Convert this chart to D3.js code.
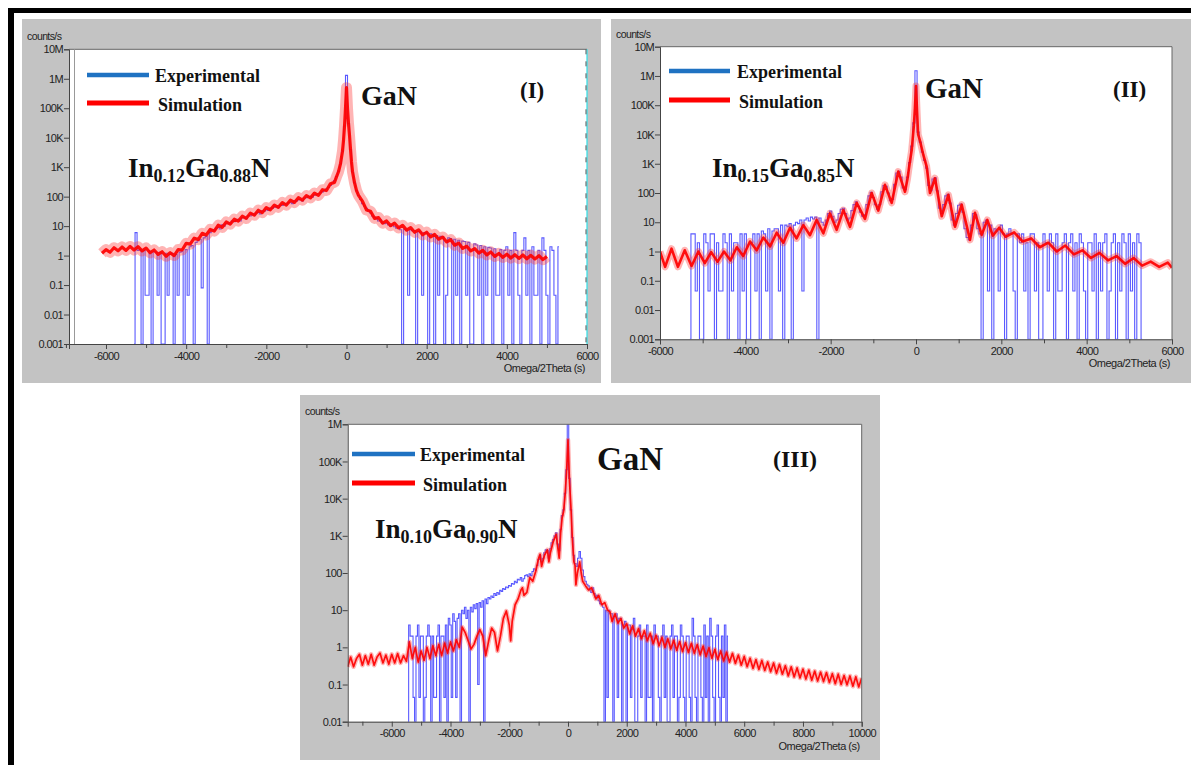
<!DOCTYPE html>
<html><head><meta charset="utf-8">
<script src="https://cdn.jsdelivr.net/npm/d3@7"></script>
<style>body{margin:0;background:#fff}svg{display:block}</style>
</head><body><svg id="c" width="1191" height="765"></svg>
<script>
// ---------------- DATA ----------------
const yLabelsI = ["0.001","0.01","0.1","1","10","100","1K","10K","100K","1M","10M"];
const yLabelsIII = ["0.01","0.1","1","10","100","1K","10K","100K","1M"];
const xTicksI = [-6000,-4000,-2000,0,2000,4000,6000];
const xTicksIII = [-6000,-4000,-2000,0,2000,4000,6000,8000,10000];

// Panel I simulation (red)
const simI_x = [-6100,-6000,-5900,-5800,-5700,-5600,-5500,-5400,-5300,-5200,-5100,-5000,-4900,-4800,-4700,-4600,-4500,-4400,-4300,-4200,-4100,-4000,-3900,-3800,-3700,-3600,-3500,-3400,-3300,-3200,-3100,-3000,-2900,-2800,-2700,-2600,-2500,-2400,-2300,-2200,-2100,-2000,-1900,-1800,-1700,-1600,-1500,-1400,-1300,-1200,-1100,-1000,-900,-800,-700,-600,-500,-400,-300,-250,-200,-150,-100,-75,-50,-25,0,25,50,75,100,125,150,200,250,300,400,500,600,700,800,900,1000,1100,1200,1300,1400,1500,1600,1700,1800,1900,2000,2100,2200,2300,2400,2500,2600,2700,2800,2900,3000,3100,3200,3300,3400,3500,3600,3700,3800,3900,4000,4100,4200,4300,4400,4500,4600,4700,4800,4900,5000];
const simI_y = [1.2,1.6,1.3,1.85,1.45,1.95,1.5,2.05,1.55,2.0,1.45,1.8,1.25,1.55,1.1,1.35,0.95,1.25,1.0,1.6,1.55,2.6,2.45,3.9,3.5,5.7,5.0,7.7,6.8,10.7,9.1,13.8,11.7,17.2,14.8,21.8,18.3,27.6,23.5,34.5,28.7,42.5,35.7,51.7,43.5,63,52,76,63.5,92,76.5,109,91,132,111,172,161,276,305,470,700,1300,3500,8000,24000,100000,500000,100000,30000,12000,4000,1500,700,300,160,110,69,35,32,18.3,19.5,12.6,15,10.4,12.6,8.7,10.6,7.3,8.9,6.2,7.5,5.1,6.2,4.3,5.2,3.6,4.25,2.9,3.45,2.25,2.65,1.75,2.07,1.44,1.72,1.22,1.5,1.06,1.32,0.94,1.18,0.87,1.12,0.83,1.07,0.8,1.05,0.78,1.02,0.77,0.99,0.73,0.94];

// Panel I experimental (blue), step 50
const expI_leftStart = -5300;
const expI_left = [0.001,6,1.5,1.6,0.001,1.5,0.045,0.045,1.4,0.001,1.4,1.3,0.045,1.3,0.001,0.001,1.2,0.045,1.1,1.2,0.001,1.1,0.045,1.3,1.4,0.001,1.6,0.045,2.0,2.2,0.001,2.8,3.2,3.6,0.08,4.0,4.5,0.001];
const expI_midStart = -3400;
const expI_mid = [6.0,7.5,7.0,8.5,9.0,8.0,11,10,12,13,12,15,14,16,17,15,19,20,18,23,22,26,24,28,29,26,33,32,36,34,41,40,44,46,42,52,50,57,55,62,64,58,72,70,78,80,72,90,92,98,100,95,112,118,125,135,145,160,180,205,240,290,350,480,720,1300,3500,25000,1300000,30000,4000,700,300,160,110,80,58,48,40,33,28,22,20,18,15,16,13,12,12.5,11,10,11,9.5,8.5,9,7.5];
const expI_rightStart = 1400;
const expI_right = [0.001,8,7.8,0.045,7.5,7,7,0.001,6.5,6.2,0.045,6,5.8,0.001,5.5,5.2,0.001,4.8,0.045,4.5,4.3,0.001,0.045,4,3.8,0.001,3.6,0.045,3.3,0.001,3.1,3,0.045,2.8,0.001,0.001,2.5,2.3,0.045,2.2,0.001,2,0.045,1.9,1.8,0.001,1.7,0.045,0.045,1.6,0.001,1.5,2,0.045,1.5,0.001,6,1.5,0.045,0.001,1.5,4,0.045,1.5,0.001,2,0.045,0.045,1.5,0.001,4,1.5,0.045,0.001,2,1.5,0.045,0.001,2];

// Panel II simulation (red)
const simII_x = [-6000,-5880,-5730,-5580,-5420,-5260,-5100,-4950,-4800,-4650,-4500,-4350,-4200,-4050,-3890,-3735,-3578,-3420,-3265,-3110,-2953,-2800,-2640,-2485,-2330,-2172,-2016,-1860,-1703,-1547,-1390,-1196,-1040,-884,-727,-570,-415,-258,-200,-150,-100,-50,-25,0,25,50,94,172,250,328,445,602,758,914,1070,1266,1383,1540,1672,1800,1950,2100,2300,2500,2700,2900,3100,3300,3500,3700,3900,4100,4300,4500,4700,4900,5100,5300,5500,5700,5900,6000];
const simII_y = [1.0,0.3,1.25,0.3,1.1,0.32,1.0,0.4,0.95,0.45,1.0,0.5,1.4,0.7,2.2,1.1,3,1.5,4.4,2,6.5,2.8,8,3.6,12,4.2,20,5.5,26,7,46,13,100,25,190,46,540,110,300,1000,3000,20000,80000,450000,60000,10000,6000,2000,800,100,320,16,87,7,40,2.5,21,3.7,12,3.5,6.5,3.2,4.5,2.2,2.8,1.4,2.0,1.0,1.6,0.8,1.1,0.6,0.9,0.5,0.7,0.38,0.6,0.33,0.45,0.3,0.42,0.28];

// Panel II experimental (blue), step 50
const expII_leftStart = -5300;
const expII_left = [0.001,4,4,0.045,2,0.001,0.001,4,2,0.045,4,4,0.001,2,0.045,0.045,4,2,0.001,4,0.045,2,2,0.001,4,0.045,4,0.001,0.001,2,4,0.045,4,0.001,5,4,0.045,6,0.001,5,6,6,0.045,8,0.001,8,7,9,0.001,8,10,9,12,0.045,12,14,11,15,13,15,0.001,14];
const expII_midStart = -2200;
const expII_mid = [10,8,12,20,24,16,10,12,20,28,30,20,12,14,25,40,50,35,22,16,18,40,80,105,70,40,28,40,110,180,170,100,55,60,200,480,550,350,150,130,350,1100,4000,25000,1500000,12000,5500,2500,1300,700,180,120,300,330,120,30,20,40,80,90,45,12,8,20,38,42,22,6,3,2.5,8,20,18,6,4];
const expII_rightStart = 1550;
const expII_right = [0.001,10,12,0.045,8,0.001,6,5,0.045,8,4,0.001,4,6,4,0.045,0.001,4,2,4,0.045,2,0.001,4,4,0.045,2,0.001,0.001,4,2,0.045,4,2,0.001,4,0.045,0.045,2,4,0.001,2,4,0.045,2,0.001,4,2,0.045,0.001,2,2,0.045,4,0.001,2,0.045,2,4,0.001,0.045,2,4,0.001,2,0.045,4,2,0.001,4,0.045,2,0.001,4,2,0.001];

// Panel III simulation (red)
const simIII_x = [-7500,-7400,-7300,-7200,-7100,-7000,-6900,-6800,-6700,-6600,-6500,-6400,-6300,-6200,-6100,-6000,-5900,-5800,-5700,-5600,-5500,-5400,-5300,-5200,-5100,-5000,-4900,-4800,-4700,-4600,-4500,-4400,-4300,-4200,-4100,-4000,-3900,-3800,-3700,-3600,-3500,-3400,-3300,-3200,-3100,-3000,-2900,-2800,-2700,-2600,-2500,-2400,-2300,-2200,-2100,-2000,-1950,-1900,-1800,-1700,-1600,-1550,-1500,-1400,-1300,-1200,-1100,-1000,-950,-900,-800,-700,-650,-600,-500,-400,-350,-300,-250,-200,-150,-100,-50,0,50,100,150,200,240,270,320,400,450,500,600,700,800,860,950,1050,1150,1250,1350,1430,1500,1600,1700,1800,1900,2000,2100,2200,2300,2400,2500,2600,2700,2800,2900,3000,3100,3200,3300,3400,3500,3600,3700,3800,3900,4000,4100,4200,4300,4400,4500,4600,4700,4800,4900,5000,5100,5200,5300,5400,5500,5600,5700,5800,5900,6000,6100,6200,6300,6400,6500,6600,6700,6800,6900,7000,7100,7200,7300,7400,7500,7600,7700,7800,7900,8000,8100,8200,8300,8400,8500,8600,8700,8800,8900,9000,9100,9200,9300,9400,9500,9600,9700,9800,9900,10000];
const simIII_y = [0.3,0.55,0.3,0.5,0.65,0.33,0.6,0.35,0.65,0.33,0.55,0.7,0.38,0.62,0.35,0.65,0.38,0.68,0.38,0.6,0.42,1.4,0.5,1.0,0.4,0.8,0.45,1.0,0.5,1.1,0.6,1.2,0.6,1.3,0.7,1.4,0.8,1.6,1.0,3.5,2.5,1.5,0.9,1.2,2.0,3.0,2.0,0.6,1.5,3.3,2.5,0.8,2.0,6.0,9.5,4.0,1.5,5,14,20,35,40,25,30,75,60,110,250,320,150,300,420,200,350,700,1100,500,250,1200,3000,4500,12000,50000,380000,30000,6000,800,200,160,48,100,200,100,60,45,35,40,31,20,25,14,16,10,9,5,8,4.5,6,3.3,4.3,2.3,3.8,2.0,3.2,1.7,2.8,1.5,2.4,1.25,2.1,1.1,1.85,1.0,1.7,0.9,1.55,0.83,1.43,0.77,1.35,0.73,1.28,0.69,1.19,0.63,1.08,0.57,0.97,0.51,0.88,0.47,0.8,0.43,0.74,0.4,0.69,0.37,0.62,0.33,0.57,0.3,0.51,0.27,0.47,0.255,0.445,0.24,0.405,0.22,0.38,0.2,0.35,0.19,0.32,0.17,0.3,0.16,0.28,0.15,0.26,0.14,0.245,0.13,0.23,0.124,0.216,0.12,0.21,0.113,0.196,0.105,0.19,0.1,0.175,0.098,0.17,0.09,0.162,0.086,0.15];

// Panel III experimental (blue), step 50
const expIII_leftStart = -5450;
const expIII_left = [0.01,4,2,2,0.045,0.01,2,4,0.045,2,2,0.01,0.045,2,4,2,0.01,2,0.045,0.045,2,4,0.01,2,2,0.045,4,0.01,6,4,0.045,8,5,0.045,6,8,0.01,10,8,12,6,10,0.01,12,9,14,11,15,0.1,16,12,18,0.01,20,15,22];
const expIII_midStart = -2650;
const expIII_mid = [20,24,22,28,25,30,27,34,32,38,36,42,40,46,44,52,50,60,55,68,65,75,60,70,85,90,80,95,85,110,130,120,160,230,300,200,250,350,420,400,250,450,650,800,1000,1200,600,400,1500,3500,5000,14000,60000,1000000,35000,5000,900,300,180,150,250,380,250,120,80,60,50,45,35,30,40,28,22,25,18,15,14,12,0.01];
const expIII_rightStart = 1300;
const expIII_right = [10,0.045,10,8,8,0.01,7,8,0.045,6,6,0.01,4,5,0.01,4,4,0.045,3,6,0.01,0.01,2,4,0.045,2,2,0.01,4,0.045,0.045,2,0.01,4,2,2,0.045,0.01,2,4,0.045,2,0.01,0.01,2,4,0.045,2,2,0.01,0.045,4,2,0.045,0.01,2,2,0.045,0.01,6,2,0.045,0.01,2,2,0.045,0.01,4,0.045,2,0.01,6,2,0.045,0.01,2,4,0.045,0.01,2,0.045,4,0.01,2];

// ---------------- DRAWING ----------------
const svg = d3.select('#c');
const SERIF = "'Liberation Serif','Times New Roman',serif";
const SANS = "'Liberation Sans',Arial,sans-serif";

svg.append('rect').attr('x',8).attr('y',8).attr('width',1183).attr('height',5).attr('fill','#000');
svg.append('rect').attr('x',8).attr('y',8).attr('width',6).attr('height',757).attr('fill','#000');

function segs(list){
  const pts=[];
  list.forEach(([start,vals])=>vals.forEach((v,i)=>pts.push([start+i*50,v])));
  return pts;
}

function drawPanel(p, idx){
  const g = svg.append('g');
  g.append('rect').attr('x',p.box[0]).attr('y',p.box[1]).attr('width',p.box[2]).attr('height',p.box[3]).attr('fill','#c3c3c3');
  g.append('rect').attr('x',p.x0).attr('y',p.y0).attr('width',p.x1-p.x0).attr('height',p.y1-p.y0).attr('fill','#fff');

  const x = d3.scaleLinear().domain(p.xDomain).range([p.x0,p.x1]);
  const y = d3.scaleLog().domain([p.yMin,p.yMax]).range([p.y1,p.y0]);
  const clipId='clip'+idx;
  svg.append('clipPath').attr('id',clipId).append('rect')
    .attr('x',p.x0).attr('y',p.y0).attr('width',p.x1-p.x0).attr('height',p.y1-p.y0);
  const plot = g.append('g').attr('clip-path',`url(#${clipId})`);
  const line = d3.line().x(d=>x(d[0])).y(d=>y(Math.max(d[1],p.yMin)));
  const stepLine = d3.line().curve(d3.curveStep).x(d=>x(d[0])).y(d=>y(Math.max(d[1],p.yMin)));

  plot.append('path').datum(p.exp).attr('d',stepLine).attr('fill','none')
    .attr('stroke','#0a0aff').attr('stroke-opacity',0.68).attr('stroke-width',1.1);
  const sim = p.simX.map((v,i)=>[v,p.simY[i]]);
  plot.append('path').datum(sim).attr('d',line).attr('fill','none')
    .attr('stroke','#ff3a3a').attr('stroke-opacity',0.38).attr('stroke-width',p.halo)
    .attr('stroke-linejoin','round');
  plot.append('path').datum(sim).attr('d',line).attr('fill','none')
    .attr('stroke','#ff0000').attr('stroke-opacity',0.92).attr('stroke-width',p.core)
    .attr('stroke-linejoin','round');

  g.append('line').attr('x1',p.x0).attr('x2',p.x1).attr('y1',p.y0).attr('y2',p.y0).attr('stroke','#666');
  if(p.cyan){
    g.append('line').attr('x1',p.x1).attr('x2',p.x1).attr('y1',p.y0).attr('y2',p.y1).attr('stroke','#30e0e8').attr('stroke-width',1.2);
    g.append('line').attr('x1',p.x1-1).attr('x2',p.x1-1).attr('y1',p.y0).attr('y2',p.y1).attr('stroke','#555').attr('stroke-dasharray','5,7');
    g.append('line').attr('x1',p.x0+5.5).attr('x2',p.x0+5.5).attr('y1',p.y0).attr('y2',p.y1).attr('stroke','#999');
  } else {
    g.append('line').attr('x1',p.x1).attr('x2',p.x1).attr('y1',p.y0).attr('y2',p.y1).attr('stroke','#666');
  }

  const decades = p.yLabels.map((_,i)=>p.yMin*Math.pow(10,i));
  const ya = g.append('g').attr('transform',`translate(${p.x0},0)`)
    .call(d3.axisLeft(y).tickValues(decades).tickFormat((d,i)=>p.yLabels[i]).tickSize(5).tickPadding(1));
  const xa = g.append('g').attr('transform',`translate(0,${p.y1})`)
    .call(d3.axisBottom(x).tickValues(p.xTicks).tickFormat(d=>String(d)).tickSize(5).tickPadding(3));
  const minors = p.xTicks.map(v=>v+1000).filter(v=>v<p.xDomain[1]);
  if(p.xDomain[0] < p.xTicks[0]-900) minors.unshift(p.xTicks[0]-1000);
  const xm = g.append('g').attr('transform',`translate(0,${p.y1})`)
    .call(d3.axisBottom(x).tickValues(minors).tickSize(4).tickFormat(''));
  [ya,xa,xm].forEach(a=>{
    a.selectAll('path').attr('stroke','#444');
    a.selectAll('line').attr('stroke','#444');
    a.selectAll('text').attr('fill','#222').style('font-family',SANS).style('font-size','11px').style('letter-spacing','-0.6px');
  });
  xm.select('path').remove();

  g.append('text').attr('x',p.box[0]+5).attr('y',p.y0-9).text('counts/s')
    .attr('fill','#222').style('font-family',SANS).style('font-size','10.5px').style('letter-spacing','-0.6px');
  g.append('text').attr('x',p.x1-2).attr('y',p.y1+28).attr('text-anchor','end').text('Omega/2Theta (s)')
    .attr('fill','#222').style('font-family',SANS).style('font-size','11px').style('letter-spacing','-0.5px');

  const L=p.legend;
  g.append('line').attr('x1',L.lx0).attr('x2',L.lx1).attr('y1',L.yb).attr('y2',L.yb).attr('stroke','#1f72c2').attr('stroke-width',4.5);
  g.append('line').attr('x1',L.lx0).attr('x2',L.lx1).attr('y1',L.yr).attr('y2',L.yr).attr('stroke','#ff0000').attr('stroke-width',5);
  g.append('text').attr('x',L.tx1).attr('y',L.yb+6.5).text('Experimental')
    .style('font-family',SERIF).style('font-weight','bold').style('font-size','18px').attr('fill','#111');
  g.append('text').attr('x',L.tx2).attr('y',L.yr+8).text('Simulation')
    .style('font-family',SERIF).style('font-weight','bold').style('font-size','18px').attr('fill','#111');

  const c = g.append('text').attr('x',p.comp.x).attr('y',p.comp.y)
    .style('font-family',SERIF).style('font-weight','bold').style('font-size','27px').attr('fill','#111');
  c.append('tspan').text('In');
  c.append('tspan').text(p.comp.a).attr('dy',5).style('font-size','18px');
  c.append('tspan').text('Ga').attr('dy',-5);
  c.append('tspan').text(p.comp.b).attr('dy',5).style('font-size','18px');
  c.append('tspan').text('N').attr('dy',-5);

  g.append('text').attr('x',p.gan.x).attr('y',p.gan.y).text('GaN')
    .style('font-family',SERIF).style('font-weight','bold').style('font-size',p.gan.s+'px').attr('fill','#111');
  g.append('text').attr('x',p.num.x).attr('y',p.num.y).text(p.num.t)
    .style('font-family',SERIF).style('font-weight','bold').style('font-size',p.num.s+'px').attr('fill','#111');
}

drawPanel({
  box:[22,19,579,364], x0:69, x1:587, y0:49.3, y1:344,
  xDomain:[-6923,6000], yMin:0.001, yMax:1e7, yLabels:yLabelsI, xTicks:xTicksI,
  exp: segs([[expI_leftStart,expI_left],[expI_midStart,expI_mid],[expI_rightStart,expI_right]]),
  simX:simI_x, simY:simI_y, halo:11, core:3.2, cyan:true,
  legend:{lx0:87,lx1:149,yb:75,yr:103,tx1:155,tx2:158},
  comp:{x:128,y:177,a:'0.12',b:'0.88'},
  gan:{x:361,y:105,s:28}, num:{x:520,y:98,t:'(I)',s:23}
},0);

drawPanel({
  box:[611,19,580,364], x0:660, x1:1172, y0:46.7, y1:339.3,
  xDomain:[-6000,6000], yMin:0.001, yMax:1e7, yLabels:yLabelsI, xTicks:xTicksI,
  exp: segs([[expII_leftStart,expII_left],[expII_midStart,expII_mid],[expII_rightStart,expII_right]]),
  simX:simII_x, simY:simII_y, halo:7, core:2.6, cyan:false,
  legend:{lx0:669,lx1:730,yb:71,yr:100,tx1:737,tx2:739},
  comp:{x:712,y:177,a:'0.15',b:'0.85'},
  gan:{x:925,y:98,s:29}, num:{x:1113,y:97,t:'(II)',s:23}
},1);

drawPanel({
  box:[300,395,580,365], x0:347.7, x1:861.7, y0:424.3, y1:721.7,
  xDomain:[-7500,10000], yMin:0.01, yMax:1e6, yLabels:yLabelsIII, xTicks:xTicksIII,
  exp: segs([[expIII_leftStart,expIII_left],[expIII_midStart,expIII_mid],[expIII_rightStart,expIII_right]]),
  simX:simIII_x, simY:simIII_y, halo:4.5, core:1.7, cyan:false,
  legend:{lx0:352,lx1:415,yb:454,yr:483,tx1:420,tx2:423},
  comp:{x:375,y:538,a:'0.10',b:'0.90'},
  gan:{x:597,y:470,s:33}, num:{x:773,y:467,t:'(III)',s:24}
},2);
</script></body></html>
